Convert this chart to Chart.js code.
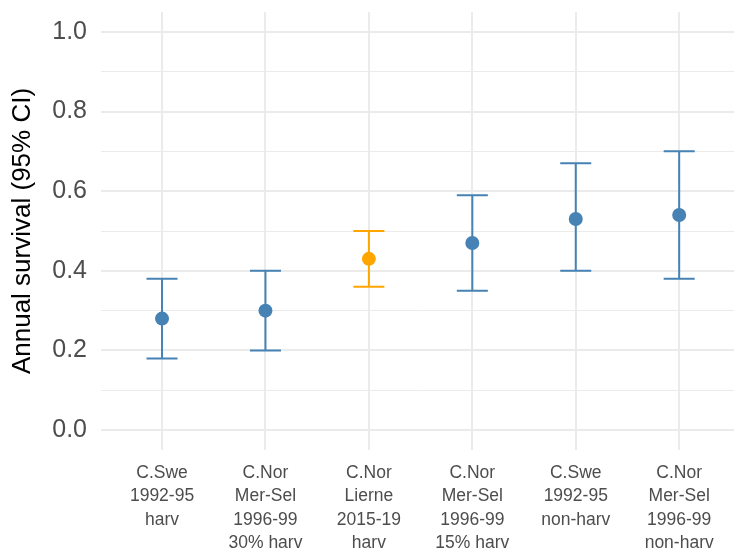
<!DOCTYPE html>
<html lang="en">
<head>
    <meta charset="UTF-8">
    <title>Annual survival</title>
    <style>
        body { margin: 0; padding: 0; background: #fff; }
        #wrap { width: 734px; height: 558px; }
    </style>
</head>
<body>
    <div id="wrap"><canvas id="chart" width="734" height="558"></canvas></div>

    <script src="https://cdn.jsdelivr.net/npm/chart.js"></script>
    <script>
        // data
        const groups = [
            ["C.Swe", "1992-95", "harv"],
            ["C.Nor", "Mer-Sel", "1996-99", "30% harv"],
            ["C.Nor", "Lierne", "2015-19", "harv"],
            ["C.Nor", "Mer-Sel", "1996-99", "15% harv"],
            ["C.Swe", "1992-95", "non-harv"],
            ["C.Nor", "Mer-Sel", "1996-99", "non-harv"]
        ];
        const survival = [0.28, 0.30, 0.43, 0.47, 0.53, 0.54];
        const lowerCI = [0.18, 0.20, 0.36, 0.35, 0.40, 0.38];
        const upperCI = [0.38, 0.40, 0.50, 0.59, 0.67, 0.70];
        const pointColors = ["#4682B4", "#4682B4", "#FFA500", "#4682B4", "#4682B4", "#4682B4"];
        const yTicks = [0, 0.1, 0.2, 0.3, 0.4, 0.5, 0.6, 0.7, 0.8, 0.9, 1.0];

        const font = "'Liberation Sans', Arial, sans-serif";

        // error bars drawn under the points
        const errorBars = {
            id: 'errorBars',
            beforeDatasetsDraw(chart) {
                const ctx = chart.ctx;
                const xs = chart.scales.x, ys = chart.scales.y;
                const cap = 0.15;
                ctx.save();
                ctx.lineWidth = 2;
                survival.forEach((v, i) => {
                    ctx.strokeStyle = pointColors[i];
                    const x = xs.getPixelForValue(i);
                    const x0 = xs.getPixelForValue(i - cap);
                    const x1 = xs.getPixelForValue(i + cap);
                    const yl = ys.getPixelForValue(lowerCI[i]);
                    const yu = ys.getPixelForValue(upperCI[i]);
                    ctx.beginPath();
                    ctx.moveTo(x, yl); ctx.lineTo(x, yu);
                    ctx.moveTo(x0, yl); ctx.lineTo(x1, yl);
                    ctx.moveTo(x0, yu); ctx.lineTo(x1, yu);
                    ctx.stroke();
                });
                ctx.restore();
            }
        };

        new Chart(document.getElementById('chart').getContext('2d'), {
            type: 'scatter',
            data: {
                datasets: [{
                    data: survival.map((v, i) => ({ x: i, y: v })),
                    backgroundColor: pointColors,
                    borderColor: pointColors,
                    pointRadius: 7,
                    pointHoverRadius: 7,
                    borderWidth: 0
                }]
            },
            options: {
                responsive: false,
                animation: false,
                layout: { autoPadding: false, padding: { top: 12, right: 0, left: 0, bottom: 0 } },
                plugins: { legend: { display: false }, tooltip: { enabled: false } },
                scales: {
                    x: {
                        type: 'linear',
                        min: -0.59,
                        max: 5.53,
                        afterBuildTicks: s => { s.ticks = groups.map((g, i) => ({ value: i })); },
                        afterFit: s => { s.height = 108; s.paddingLeft = 0; s.paddingRight = 0; },
                        border: { display: false },
                        grid: { color: '#ebebeb', lineWidth: 2, drawTicks: false },
                        ticks: {
                            autoSkip: false,
                            maxRotation: 0,
                            padding: 12,
                            color: '#4d4d4d',
                            font: { family: font, size: 17.5, lineHeight: 1.32 },
                            callback: v => groups[v]
                        }
                    },
                    y: {
                        min: -0.05,
                        max: 1.05,
                        afterBuildTicks: s => { s.ticks = yTicks.map(v => ({ value: v })); },
                        afterFit: s => { s.width = 101; s.paddingTop = 0; s.paddingBottom = 0; },
                        border: { display: false },
                        grid: {
                            color: '#ebebeb',
                            drawTicks: false,
                            lineWidth: c => (Math.round(c.tick.value * 10) % 2 === 0 ? 2 : 1)
                        },
                        ticks: {
                            padding: 14,
                            color: '#4d4d4d',
                            font: { family: font, size: 25 },
                            callback: v => (Math.round(v * 10) % 2 === 0 ? v.toFixed(1) : '')
                        },
                        title: {
                            display: true,
                            text: 'Annual survival (95% CI)',
                            color: '#000',
                            font: { family: font, size: 26 },
                            padding: { top: 7, bottom: 0 }
                        }
                    }
                }
            },
            plugins: [errorBars]
        });
    </script>
</body>
</html>
